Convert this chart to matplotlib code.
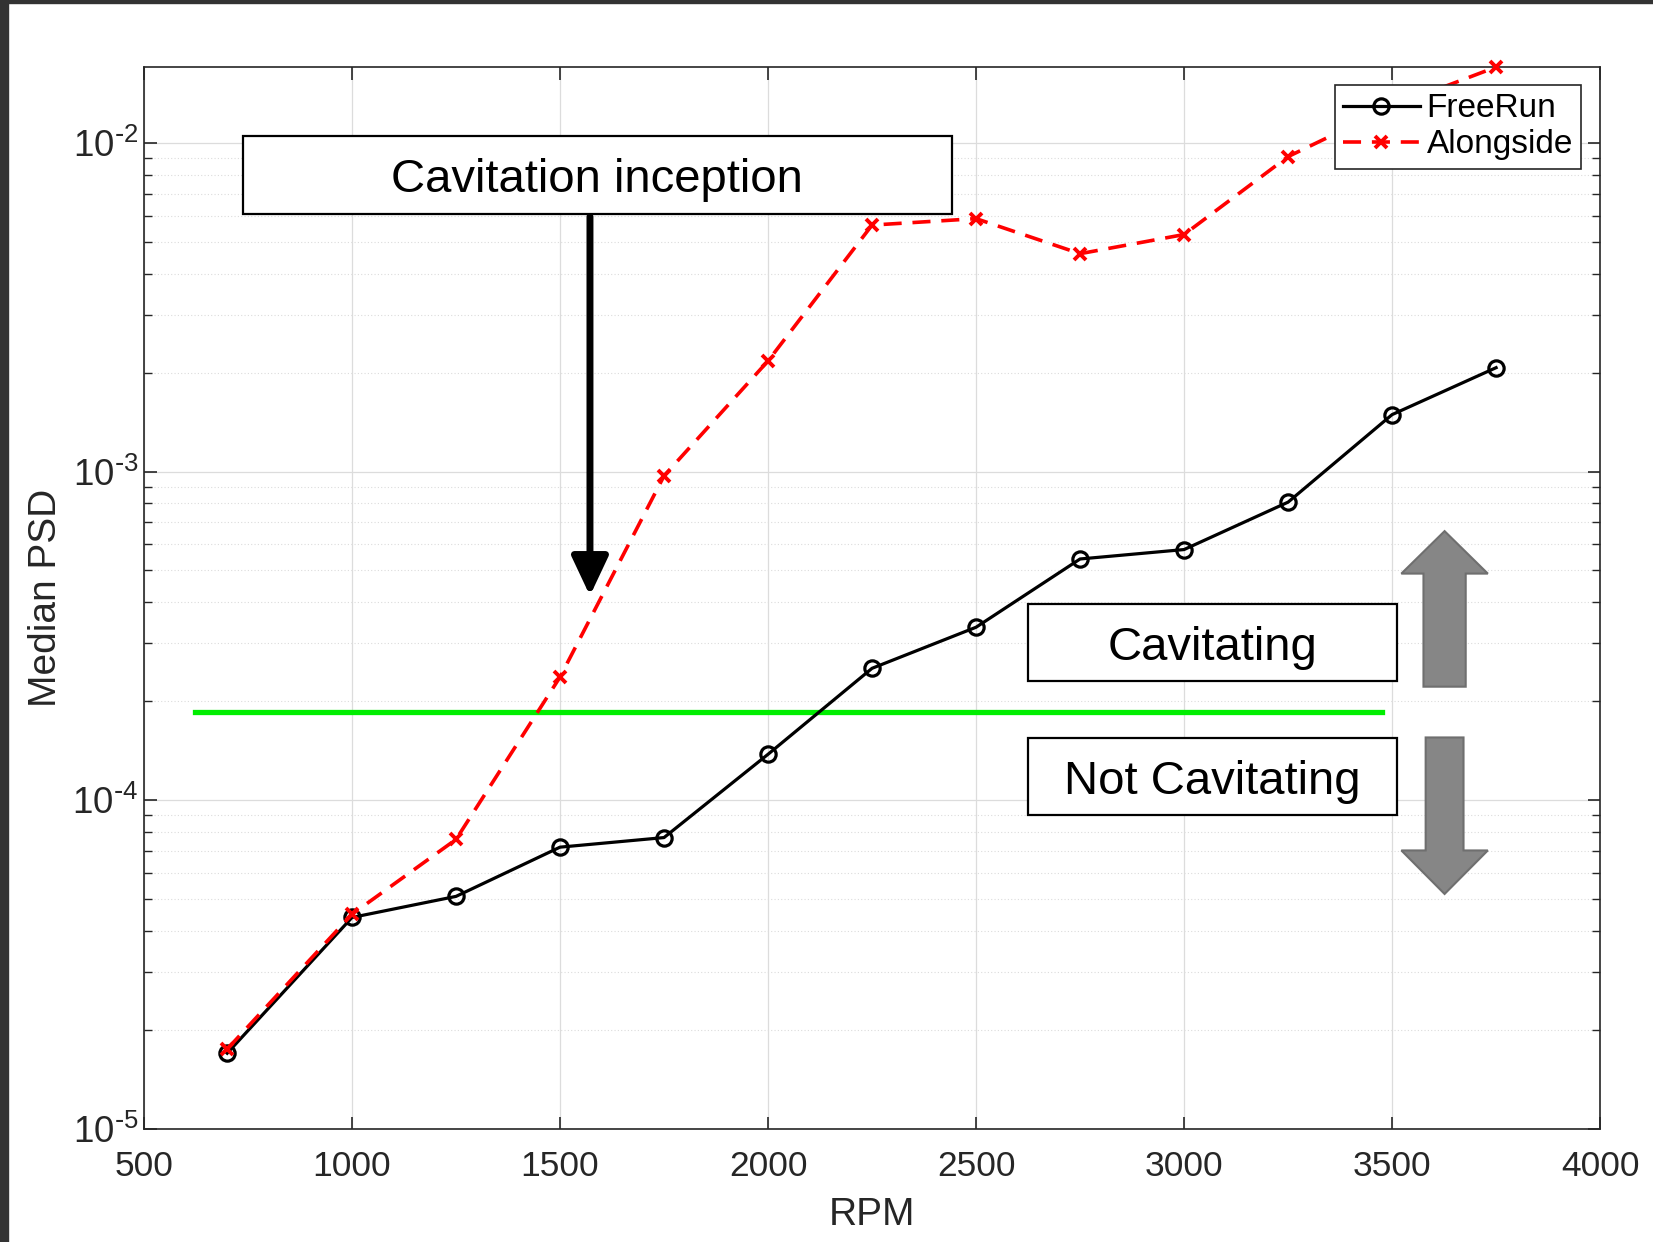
import numpy as np
import matplotlib as mpl
import matplotlib.pyplot as plt
from matplotlib.patches import Rectangle, FancyArrow
from matplotlib.ticker import LogLocator, NullFormatter, FuncFormatter

# данные: медианная СПМ от оборотов
rpm = [700, 1000, 1250, 1500, 1750, 2000, 2250, 2500, 2750, 3000, 3250, 3500, 3750]
psd_freerun = [1.70e-5, 4.4e-5, 5.1e-5, 7.2e-5, 7.7e-5, 1.38e-4, 2.52e-4,
               3.36e-4, 5.42e-4, 5.79e-4, 8.07e-4, 1.49e-3, 2.07e-3]
psd_alongside = [1.75e-5, 4.5e-5, 7.6e-5, 2.37e-4, 9.7e-4, 2.17e-3, 5.62e-3,
                 5.88e-3, 4.6e-3, 5.26e-3, 9.08e-3, 1.29e-2, 1.70e-2]

# порог кавитации
threshold = 1.85e-4
threshold_rpm = [622, 3475]

# стрелка начала кавитации
inception_rpm = 1572
inception_psd = (5.97e-3, 4.19e-4)

plt.rcParams['font.family'] = ['Liberation Sans', 'DejaVu Sans']
plt.rcParams['axes.unicode_minus'] = False


def pow10_label(val, pos):
    # подпись вида 10^-3 с обычным дефисом
    p = int(round(np.log10(val)))
    sign = r'\text{-}' if p < 0 else ''
    return r'$\mathdefault{10^{%s%d}}$' % (sign, abs(p))


fig = plt.figure(figsize=(16.53, 12.42), dpi=100)
ax = fig.add_axes([0.0871, 0.0910, 0.8809, 0.8550])

# тёмная рамка слева и сверху
fig.patches.append(Rectangle((0, 0), 8 / 1653, 1, transform=fig.transFigure,
                             color='#333333', zorder=0))
fig.patches.append(Rectangle((0, 1 - 3 / 1242), 1, 3 / 1242,
                             transform=fig.transFigure, color='#333333', zorder=0))

ax.set_xlim(500, 4000)
ax.set_yscale('log')
ax.set_ylim(1e-5, 1.70e-2)

ax.set_xticks(np.arange(500, 4001, 500))
ax.yaxis.set_major_locator(LogLocator(base=10, numticks=10))
ax.yaxis.set_major_formatter(FuncFormatter(pow10_label))
ax.yaxis.set_minor_locator(LogLocator(base=10, subs=np.arange(2, 10), numticks=20))
ax.yaxis.set_minor_formatter(NullFormatter())

# сетка в стиле MATLAB
ax.grid(True, which='major', color='#dcdcdc', lw=0.9, ls='-')
ax.grid(True, which='minor', axis='y', color='#dcdcdc', lw=0.8, ls=(0, (1, 2)))
ax.set_axisbelow(True)

ax.tick_params(which='both', direction='in', top=True, right=True,
               colors='#262626', labelcolor='#262626')
ax.tick_params(which='major', length=9, width=1.2, labelsize=25.5)
ax.tick_params(axis='y', which='major', labelsize=26.5, pad=4)
ax.tick_params(axis='x', which='major', pad=15)
ax.tick_params(which='minor', length=6, width=1.0)
for sp in ax.spines.values():
    sp.set_color('#262626')
    sp.set_linewidth(1.2)

ax.plot(rpm, psd_freerun, color='black', lw=2.3, marker='o', ms=11,
        mfc='none', mew=2.3, label='FreeRun', zorder=4)
ax.plot(rpm, psd_alongside, color='#ff0000', lw=2.6, ls=(0, (5, 3)),
        marker='x', ms=8, mew=2.8, label='Alongside', zorder=5, clip_on=False)

ax.plot(threshold_rpm, [threshold, threshold], color='#00ee00', lw=3.8, zorder=3)

ax.set_xlabel('RPM', fontsize=28, color='#262626', labelpad=10)
ax.set_ylabel('Median PSD', fontsize=28, color='#262626', labelpad=6)

leg = ax.legend(loc='upper right', fontsize=24, frameon=True, fancybox=False,
                framealpha=1, edgecolor='#262626', borderpad=0.25,
                handlelength=2.3, handletextpad=0.2, labelspacing=0.15,
                borderaxespad=0, bbox_to_anchor=(0.987, 0.983))
leg.get_frame().set_linewidth(1.2)
leg.set_zorder(6)


def text_box(x0, x1, y0, y1, s):
    ax.add_patch(Rectangle((x0, y0), x1 - x0, y1 - y0, transform=ax.transAxes,
                           facecolor='white', edgecolor='black', lw=1.6, zorder=7))
    ax.text((x0 + x1) / 2, (y0 + y1) / 2 - 0.005, s, transform=ax.transAxes,
            ha='center', va='center', fontsize=34, color='black', zorder=8)


text_box(0.0681, 0.5547, 0.862, 0.9355, 'Cavitation inception')
text_box(0.6068, 0.8602, 0.422, 0.4945, 'Cavitating')
text_box(0.6068, 0.8602, 0.2959, 0.3684, 'Not Cavitating')

# чёрная стрелка вниз
ax.annotate('', xy=(inception_rpm, inception_psd[1]),
            xytext=(inception_rpm, inception_psd[0]),
            arrowprops=dict(arrowstyle='-|>,head_length=0.85,head_width=0.4',
                            lw=5, color='black', shrinkA=0, shrinkB=0,
                            mutation_scale=28),
            zorder=7)

# серые стрелки вверх/вниз (в долях осей)
up = FancyArrow(0.8932, 0.4165, 0, 0.1465, width=0.029, head_width=0.0594,
                head_length=0.04, length_includes_head=True,
                transform=ax.transAxes, facecolor='#868686',
                edgecolor='#6f6f6f', lw=1.5, zorder=7, clip_on=False)
down = FancyArrow(0.8932, 0.3687, 0, -0.1474, width=0.026, head_width=0.0594,
                  head_length=0.041, length_includes_head=True,
                  transform=ax.transAxes, facecolor='#868686',
                  edgecolor='#6f6f6f', lw=1.5, zorder=7, clip_on=False)
ax.add_patch(up)
ax.add_patch(down)

plt.savefig('out.png', dpi=100)
plt.close(fig)
